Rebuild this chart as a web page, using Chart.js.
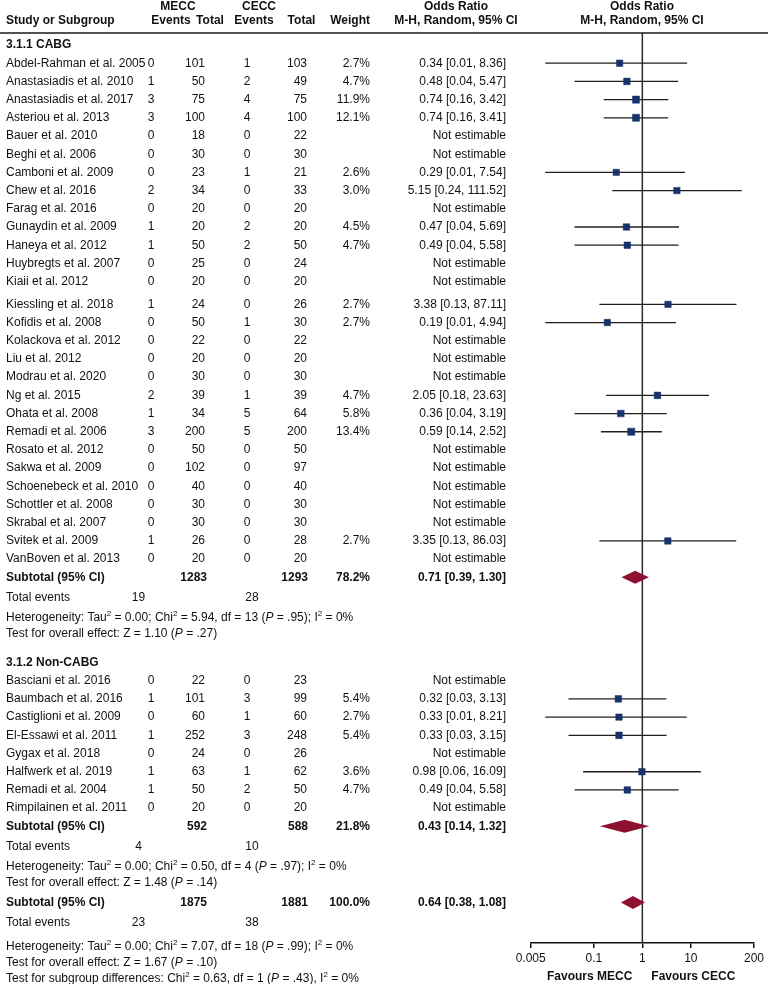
<!DOCTYPE html>
<html>
<head>
<meta charset="utf-8">
<script src="https://cdn.jsdelivr.net/npm/chart.js@4.4.1/dist/chart.umd.min.js"></script>
<style>
  html, body { margin: 0; padding: 0; background: #fff; }
  canvas { display: block; }
</style>
</head>
<body>
<canvas id="forest" width="768" height="984"></canvas>
<script>
// 3.1.1 CABG
var cabgStudies = ['Abdel-Rahman et al. 2005', 'Anastasiadis et al. 2010', 'Anastasiadis et al. 2017', 'Asteriou et al. 2013',
    'Bauer et al. 2010', 'Beghi et al. 2006', 'Camboni et al. 2009', 'Chew et al. 2016', 'Farag et al. 2016',
    'Gunaydin et al. 2009', 'Haneya et al. 2012', 'Huybregts et al. 2007', 'Kiaii et al. 2012', 'Kiessling et al. 2018',
    'Kofidis et al. 2008', 'Kolackova et al. 2012', 'Liu et al. 2012', 'Modrau et al. 2020', 'Ng et al. 2015',
    'Ohata et al. 2008', 'Remadi et al. 2006', 'Rosato et al. 2012', 'Sakwa et al. 2009', 'Schoenebeck et al. 2010',
    'Schottler et al. 2008', 'Skrabal et al. 2007', 'Svitek et al. 2009', 'VanBoven et al. 2013'];
var cabgMeccEvents = [0, 1, 3, 3, 0, 0, 0, 2, 0, 1, 1, 0, 0, 1, 0, 0, 0, 0, 2, 1, 3, 0, 0, 0, 0, 0, 1, 0];
var cabgMeccTotal = [101, 50, 75, 100, 18, 30, 23, 34, 20, 20, 50, 25, 20, 24, 50, 22, 20, 30, 39, 34, 200, 50, 102, 40, 30, 30, 26, 20];
var cabgCeccEvents = [1, 2, 4, 4, 0, 0, 1, 0, 0, 2, 2, 0, 0, 0, 1, 0, 0, 0, 1, 5, 5, 0, 0, 0, 0, 0, 0, 0];
var cabgCeccTotal = [103, 49, 75, 100, 22, 30, 21, 33, 20, 20, 50, 24, 20, 26, 30, 22, 20, 30, 39, 64, 200, 50, 97, 40, 30, 30, 28, 20];
var cabgWeight = [2.7, 4.7, 11.9, 12.1, null, null, 2.6, 3.0, null, 4.5, 4.7, null, null, 2.7, 2.7, null, null, null, 4.7, 5.8, 13.4, null, null, null, null, null, 2.7, null];
var cabgOR = [0.34, 0.48, 0.74, 0.74, null, null, 0.29, 5.15, null, 0.47, 0.49, null, null, 3.38, 0.19, null, null, null, 2.05, 0.36, 0.59, null, null, null, null, null, 3.35, null];
var cabgLower = [0.01, 0.04, 0.16, 0.16, null, null, 0.01, 0.24, null, 0.04, 0.04, null, null, 0.13, 0.01, null, null, null, 0.18, 0.04, 0.14, null, null, null, null, null, 0.13, null];
var cabgUpper = [8.36, 5.47, 3.42, 3.41, null, null, 7.54, 111.52, null, 5.69, 5.58, null, null, 87.11, 4.94, null, null, null, 23.63, 3.19, 2.52, null, null, null, null, null, 86.03, null];

// 3.1.2 Non-CABG
var nonCabgStudies = ['Basciani et al. 2016', 'Baumbach et al. 2016', 'Castiglioni et al. 2009', 'El-Essawi et al. 2011',
    'Gygax et al. 2018', 'Halfwerk et al. 2019', 'Remadi et al. 2004', 'Rimpilainen et al. 2011'];
var nonCabgMeccEvents = [0, 1, 0, 1, 0, 1, 1, 0];
var nonCabgMeccTotal = [22, 101, 60, 252, 24, 63, 50, 20];
var nonCabgCeccEvents = [0, 3, 1, 3, 0, 1, 2, 0];
var nonCabgCeccTotal = [23, 99, 60, 248, 26, 62, 50, 20];
var nonCabgWeight = [null, 5.4, 2.7, 5.4, null, 3.6, 4.7, null];
var nonCabgOR = [null, 0.32, 0.33, 0.33, null, 0.98, 0.49, null];
var nonCabgLower = [null, 0.03, 0.01, 0.03, null, 0.06, 0.04, null];
var nonCabgUpper = [null, 3.13, 8.21, 3.15, null, 16.09, 5.58, null];

// subtotals: CABG, Non-CABG, overall
var subMeccTotal = [1283, 592, 1875];
var subCeccTotal = [1293, 588, 1881];
var subWeight = [78.2, 21.8, 100.0];
var subOR = [0.71, 0.43, 0.64];
var subLower = [0.39, 0.14, 0.38];
var subUpper = [1.30, 1.32, 1.08];
var subMeccEvents = [19, 4, 23];
var subCeccEvents = [28, 10, 38];
var heterogeneity = [
    'Heterogeneity: Tau^2 = 0.00; Chi^2 = 5.94, df = 13 (_P_ = .95); I^2 = 0%',
    'Heterogeneity: Tau^2 = 0.00; Chi^2 = 0.50, df = 4 (_P_ = .97); I^2 = 0%',
    'Heterogeneity: Tau^2 = 0.00; Chi^2 = 7.07, df = 18 (_P_ = .99); I^2 = 0%'
];
var overallEffect = [
    'Test for overall effect: Z = 1.10 (_P_ = .27)',
    'Test for overall effect: Z = 1.48 (_P_ = .14)',
    'Test for overall effect: Z = 1.67 (_P_ = .10)'
];
var subgroupTest = 'Test for subgroup differences: Chi^2 = 0.63, df = 1 (_P_ = .43), I^2 = 0%';

var tickValues = [0.005, 0.1, 1, 10, 200];

// ---- layout ----
var FONT = '"Liberation Sans", Arial, Helvetica, sans-serif';
var TEXT = '#111';
var headerLineY = 33, axisY = 943, firstRowY = 45, rowH = 18.2;
var col = { name: 6, mEv: 151, mTot: 205, cEv: 247, cTot: 307, weight: 370, or: 506, totMEv: 138.5, totCEv: 252 };

var rows = [];
var u = 0;
function place(kind, data, gap) {
    u += gap;
    rows.push({ kind: kind, data: data, u: u });
}

function addGroup(title, names, mEv, mTot, cEv, cTot, w, or, lo, hi, k) {
    place('group', title, rows.length ? 1.6 : 0);
    for (var i = 0; i < names.length; i++) {
        var gap = names[i] === 'Kiessling et al. 2018' ? 1.25 : 1;
        place('study', { name: names[i], mEv: mEv[i], mTot: mTot[i], cEv: cEv[i], cTot: cTot[i], w: w[i], or: or[i], lo: lo[i], hi: hi[i] }, gap);
    }
    place('subtotal', k, 1);
    place('events', k, 1.1);
    place('note', heterogeneity[k], 1.1);
    place('note', overallEffect[k], 0.88);
}

addGroup('3.1.1 CABG', cabgStudies, cabgMeccEvents, cabgMeccTotal, cabgCeccEvents, cabgCeccTotal, cabgWeight, cabgOR, cabgLower, cabgUpper, 0);
addGroup('3.1.2 Non-CABG', nonCabgStudies, nonCabgMeccEvents, nonCabgMeccTotal, nonCabgCeccEvents, nonCabgCeccTotal, nonCabgWeight, nonCabgOR, nonCabgLower, nonCabgUpper, 1);
place('subtotal', 2, 1.1);
place('events', 2, 1.1);
place('note', heterogeneity[2], 1.33);
place('note', overallEffect[2], 0.88);
place('note', subgroupTest, 0.88);

var yMin = (headerLineY - firstRowY) / rowH;
var yMax = (axisY - firstRowY) / rowH;

// ---- datasets ----
var squares = [], squareSizes = [], whiskers = [];
rows.forEach(function (r) {
    if (r.kind === 'study' && r.data.or !== null) {
        squares.push({ x: r.data.or, y: r.u });
        squareSizes.push(4.4 + r.data.w * 0.05);
        whiskers.push({
            type: 'line',
            data: [{ x: r.data.lo, y: r.u }, { x: r.data.hi, y: r.u }],
            borderColor: '#1e1e1e',
            borderWidth: 1.3,
            pointRadius: 0,
            order: 2
        });
    }
});

var datasets = [{
    type: 'scatter',
    data: squares,
    pointStyle: 'rect',
    pointRadius: squareSizes,
    backgroundColor: '#17336b',
    borderColor: '#17336b',
    borderWidth: 0.5,
    order: 0
}].concat(whiskers).concat([{
    type: 'line',
    data: [{ x: 1, y: yMin }, { x: 1, y: yMax }],
    borderColor: '#2a2a2a',
    borderWidth: 1.5,
    pointRadius: 0,
    order: 3
}]);

// ---- text helpers ----
function font(bold, italic, size) {
    return (italic ? 'italic ' : '') + (bold ? 'bold ' : '') + (size || 12) + 'px ' + FONT;
}

function richText(ctx, str, x, y, align, bold) {
    var parts = str.split(/(\^\d|_[^_]+_)/).filter(function (t) { return t.length; }).map(function (t) {
        if (t.charAt(0) === '^') return { t: t.slice(1), f: font(bold, false, 8), dy: -4 };
        if (t.length > 2 && t.charAt(0) === '_' && t.charAt(t.length - 1) === '_') return { t: t.slice(1, -1), f: font(bold, true), dy: 0 };
        return { t: t, f: font(bold, false), dy: 0 };
    });
    var width = 0;
    parts.forEach(function (p) { ctx.font = p.f; p.w = ctx.measureText(p.t).width; width += p.w; });
    if (align === 'right') x -= width;
    if (align === 'center') x -= width / 2;
    ctx.textAlign = 'left';
    ctx.textBaseline = 'middle';
    parts.forEach(function (p) {
        ctx.font = p.f;
        ctx.fillText(p.t, x, y + p.dy);
        x += p.w;
    });
}

function fmt(v) { return v.toFixed(2); }
function orText(or, lo, hi) { return or === null ? 'Not estimable' : fmt(or) + ' [' + fmt(lo) + ', ' + fmt(hi) + ']'; }

var forestTable = {
    id: 'forestTable',
    beforeDraw: function (chart) {
        var ctx = chart.ctx;
        ctx.save();
        ctx.fillStyle = '#fff';
        ctx.fillRect(0, 0, chart.width, chart.height);
        ctx.restore();
    },
    afterDraw: function (chart) {
        var ctx = chart.ctx;
        var ys = chart.scales.y, xs = chart.scales.x;
        ctx.save();
        ctx.fillStyle = TEXT;

        // headers
        richText(ctx, 'MECC', 178, 7, 'center', true);
        richText(ctx, 'CECC', 259, 7, 'center', true);
        richText(ctx, 'Odds Ratio', 456, 7, 'center', true);
        richText(ctx, 'Odds Ratio', 642, 7, 'center', true);
        richText(ctx, 'Study or Subgroup', col.name, 21, 'left', true);
        richText(ctx, 'Events', 171, 21, 'center', true);
        richText(ctx, 'Total', 210, 21, 'center', true);
        richText(ctx, 'Events', 254, 21, 'center', true);
        richText(ctx, 'Total', 301.5, 21, 'center', true);
        richText(ctx, 'Weight', col.weight, 21, 'right', true);
        richText(ctx, 'M-H, Random, 95% CI', 456, 21, 'center', true);
        richText(ctx, 'M-H, Random, 95% CI', 642, 21, 'center', true);

        ctx.strokeStyle = '#1a1a1a';
        ctx.lineWidth = 1.6;
        ctx.beginPath();
        ctx.moveTo(0, headerLineY);
        ctx.lineTo(chart.width, headerLineY);
        ctx.stroke();

        rows.forEach(function (r) {
            var y = ys.getPixelForValue(r.u);
            var d = r.data;
            if (r.kind === 'group') {
                richText(ctx, d, col.name, y, 'left', true);
            } else if (r.kind === 'study') {
                richText(ctx, d.name, col.name, y, 'left', false);
                richText(ctx, String(d.mEv), col.mEv, y, 'center', false);
                richText(ctx, String(d.mTot), col.mTot, y, 'right', false);
                richText(ctx, String(d.cEv), col.cEv, y, 'center', false);
                richText(ctx, String(d.cTot), col.cTot, y, 'right', false);
                if (d.w !== null) richText(ctx, d.w.toFixed(1) + '%', col.weight, y, 'right', false);
                richText(ctx, orText(d.or, d.lo, d.hi), col.or, y, 'right', false);
            } else if (r.kind === 'subtotal') {
                richText(ctx, 'Subtotal (95% CI)', col.name, y, 'left', true);
                richText(ctx, String(subMeccTotal[d]), col.mTot + 2, y, 'right', true);
                richText(ctx, String(subCeccTotal[d]), col.cTot + 1, y, 'right', true);
                richText(ctx, subWeight[d].toFixed(1) + '%', col.weight, y, 'right', true);
                richText(ctx, orText(subOR[d], subLower[d], subUpper[d]), col.or, y, 'right', true);
                // diamond
                var xl = xs.getPixelForValue(subLower[d]), xm = xs.getPixelForValue(subOR[d]), xr = xs.getPixelForValue(subUpper[d]);
                ctx.fillStyle = '#8f1131';
                ctx.beginPath();
                ctx.moveTo(xl - 1, y);
                ctx.lineTo(xm, y - 6.5);
                ctx.lineTo(xr + 1, y);
                ctx.lineTo(xm, y + 6.5);
                ctx.closePath();
                ctx.fill();
                ctx.fillStyle = TEXT;
            } else if (r.kind === 'events') {
                richText(ctx, 'Total events', col.name, y, 'left', false);
                richText(ctx, String(subMeccEvents[d]), col.totMEv, y, 'center', false);
                richText(ctx, String(subCeccEvents[d]), col.totCEv, y, 'center', false);
            } else {
                richText(ctx, d, col.name, y, 'left', false);
            }
        });

        var x1 = xs.getPixelForValue(1);
        richText(ctx, 'Favours MECC', x1 - 10, 977, 'right', true);
        richText(ctx, 'Favours CECC', x1 + 9, 977, 'left', true);
        ctx.restore();
    }
};

var ctx = document.getElementById('forest').getContext('2d');
var grafico = new Chart(ctx, {
    type: 'scatter',
    data: { datasets: datasets },
    options: {
        responsive: false,
        animation: false,
        events: [],
        layout: { padding: { left: 530.7, right: 14, top: headerLineY, bottom: 5 } },
        plugins: { legend: { display: false }, tooltip: { enabled: false } },
        scales: {
            x: {
                type: 'logarithmic',
                min: 0.005,
                max: 200,
                position: 'bottom',
                afterBuildTicks: function (scale) {
                    scale.ticks = tickValues.map(function (v) { return { value: v }; });
                },
                afterFit: function (scale) {
                    scale.height = 984 - 5 - axisY;
                },
                grid: { drawOnChartArea: false, drawTicks: true, tickLength: 5, color: '#111', lineWidth: 1.5 },
                border: { display: true, color: '#111', width: 1.5 },
                ticks: {
                    color: TEXT,
                    font: { size: 12, family: FONT },
                    padding: 3,
                    autoSkip: false,
                    maxRotation: 0,
                    callback: function (v) { return String(v); }
                }
            },
            y: {
                type: 'linear',
                min: yMin,
                max: yMax,
                reverse: true,
                display: false
            }
        }
    },
    plugins: [forestTable]
});
</script>
</body>
</html>
